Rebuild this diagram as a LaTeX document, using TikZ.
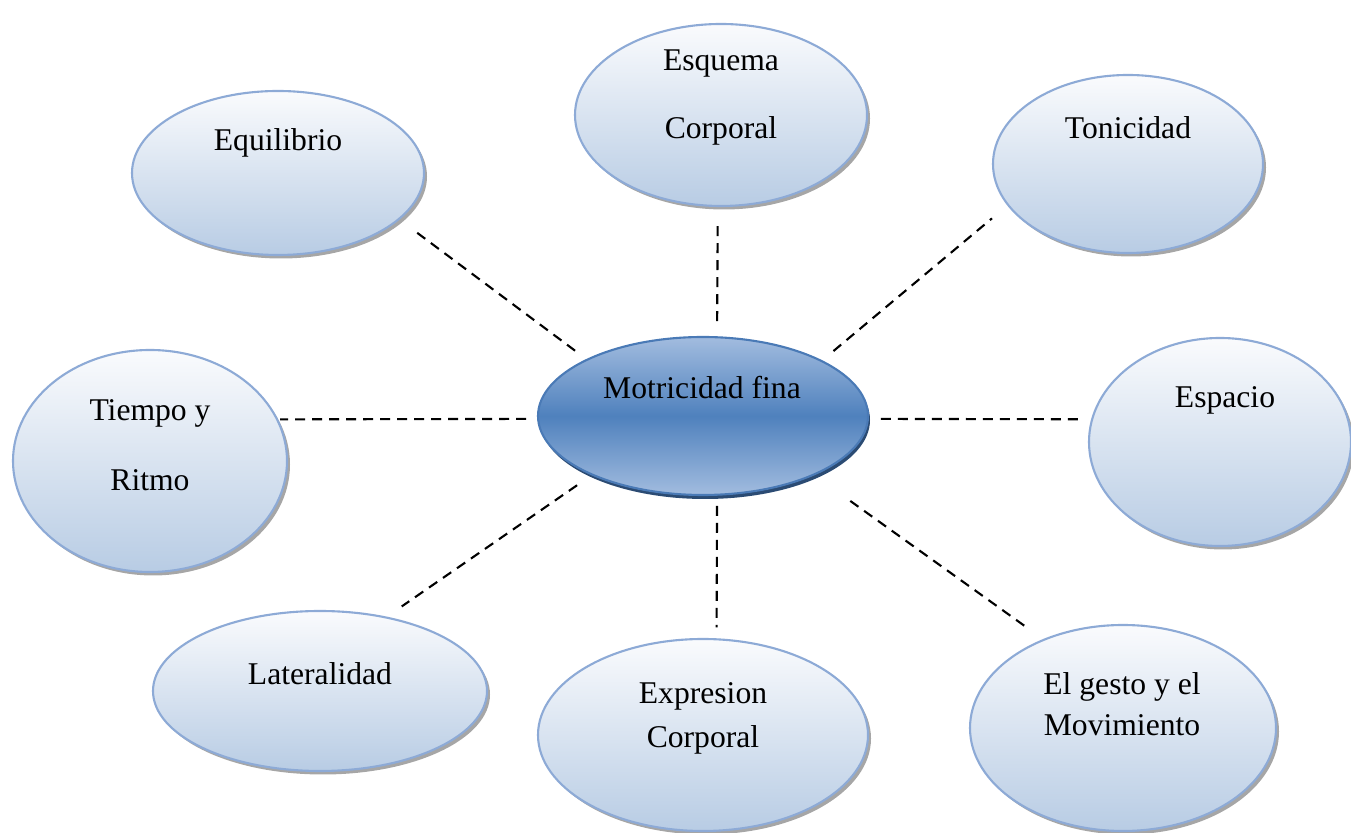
\documentclass[tikz,border=0pt]{standalone}
\usepackage{fontspec}
\setmainfont{Liberation Serif}
\usetikzlibrary{shapes.geometric,shadows}
\definecolor{bubbleedge}{HTML}{8DAAD6}
\definecolor{bubbletop}{HTML}{FAFBFD}
\definecolor{bubblebottom}{HTML}{B8CCE4}
\definecolor{hubedge}{HTML}{4A7AB6}
\definecolor{hubtop}{HTML}{A2BCDF}
\definecolor{hubmid}{HTML}{4F81BD}
\definecolor{hubshadow}{HTML}{2B4B73}

\begin{document}
\begin{tikzpicture}
  \tikzset{bubble/.style = {shape=ellipse,draw=bubbleedge,line width=1.2pt,inner sep=0pt,top color=bubbletop,bottom color=bubblebottom,drop shadow={shadow xshift=0.06cm,shadow yshift=-0.07cm,fill=black,opacity=0.35}}}
  \tikzset{hub/.style = {shape=ellipse,draw=hubedge,line width=1.2pt,inner sep=0pt,top color=hubtop,bottom color=hubtop,middle color=hubmid,drop shadow={shadow xshift=0.04cm,shadow yshift=-0.08cm,fill=hubshadow,opacity=1}}}
  \tikzset{txt/.style = {align=center,inner sep=0pt,font=\fontsize{18}{22}\selectfont}}
  \tikzset{link/.style = {line width=1.2pt,dash pattern=on 2mm off 1.4mm}}

  \useasboundingbox (0,0) rectangle (27.02,16.66);

	\node[bubble,minimum width=5.84cm,minimum height=3.64cm] (ESQ) at (14.42,14.36) {};
	\node[bubble,minimum width=5.84cm,minimum height=3.28cm] (EQ) at (5.56,13.20) {};
	\node[bubble,minimum width=5.40cm,minimum height=3.56cm] (TON) at (22.56,13.38) {};
	
	\node[bubble,minimum width=5.48cm,minimum height=4.44cm] (TR) at (3.00,7.44) {};
	\node[hub,minimum width=6.60cm,minimum height=3.16cm] (MF) at (14.06,8.34) {};
	\node[bubble,minimum width=5.24cm,minimum height=4.16cm] (ESP) at (24.40,7.82) {};
	
	\node[bubble,minimum width=6.68cm,minimum height=3.20cm] (LAT) at (6.40,2.84) {};
	\node[bubble,minimum width=6.60cm,minimum height=3.84cm] (EXP) at (14.06,1.96) {};
	\node[bubble,minimum width=6.12cm,minimum height=4.12cm] (GES) at (22.46,2.10) {};

	\node[txt,font=\fontsize{18}{39}\selectfont] (tESQ) at (14.42,14.71) {Esquema\\Corporal};
	\node[txt] (tEQ) at (5.56,13.80) {Equilibrio};
	\node[txt] (tTON) at (22.56,14.10) {Tonicidad};
	\node[txt,font=\fontsize{18}{40}\selectfont] (tTR) at (3.00,7.76) {Tiempo y\\Ritmo};
	\node[txt] (tMF) at (14.04,8.90) {Motricidad fina};
	\node[txt] (tESP) at (24.50,8.66) {Espacio};
	\node[txt] (tLAT) at (6.40,3.18) {Lateralidad};
	\node[txt,font=\fontsize{18}{25}\selectfont] (tEXP) at (14.06,2.30) {Expresion\\Corporal};
	\node[txt,font=\fontsize{18}{23.5}\selectfont] (tGES) at (22.44,2.57) {El gesto y el\\Movimiento};

    \foreach \from/\to/\sfrom/\sto in {MF.154/EQ.339/0.28/0.44, MF.80/ESQ.268/0.30/0.28,
        MF.25/TON.199/0.29/0.40, MF.181/TR.18/0.22/0.04, MF.359/ESP.170/0.24/0.24,
        MF.208/LAT.48/0.35/0.36, MF.280/EXP.82/0.20/0.22, MF.332/GES.132/0.88/0.41}
    \draw[link,shorten <=\sfrom cm,shorten >=\sto cm] (\from) -- (\to);

\end{tikzpicture}
\end{document}
